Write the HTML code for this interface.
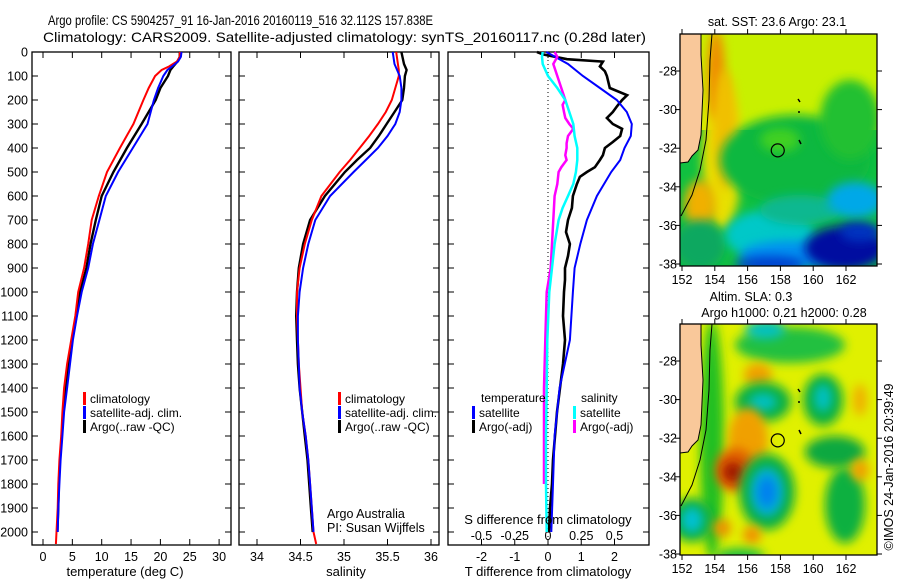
<!DOCTYPE html>
<html><head><meta charset="utf-8"><style>
html,body{margin:0;padding:0;background:#fff;}
svg{display:block;font-family:"Liberation Sans",sans-serif;}
text{fill:#000;}
</style></head><body>
<svg id="chart" width="900" height="580" viewBox="0 0 900 580" xmlns="http://www.w3.org/2000/svg">
<defs>
<filter id="blur6" x="-50%" y="-50%" width="200%" height="200%"><feGaussianBlur stdDeviation="5"/></filter>
<filter id="blur3" x="-50%" y="-50%" width="200%" height="200%"><feGaussianBlur stdDeviation="3"/></filter>
<clipPath id="clipMap1"><rect x="680" y="34" width="197" height="232"/></clipPath>
<clipPath id="clipMap2"><rect x="680" y="324" width="197" height="231"/></clipPath>
</defs>
<text x="48" y="25" font-size="14" textLength="385" lengthAdjust="spacingAndGlyphs">Argo profile: CS 5904257_91 16-Jan-2016 20160119_516 32.112S 157.838E</text>
<text x="43" y="42" font-size="14" textLength="603" lengthAdjust="spacingAndGlyphs">Climatology: CARS2009. Satellite-adjusted climatology: synTS_20160117.nc (0.28d later)</text>
<g id="plots"></g>
<g id="maps"></g>
</svg>
<script>
// ---- data ----
const depthTicks=[0,100,200,300,400,500,600,700,800,900,1000,1100,1200,1300,1400,1500,1600,1700,1800,1900,2000];
const tempTicks=[0,5,10,15,20,25,30];
const salTicks=[34,34.5,35,35.5,36];
const salTickLabels=["34","34.5","35","35.5","36"];
const tDiffTicks=[-2,-1,0,1,2];
const sDiffTicks=[-0.5,-0.25,0,0.25,0.5];
const sDiffTickLabels=["-0.5","-0.25","0","0.25","0.5"];

const tClimDepth=[0,20,40,60,75,100,150,200,300,400,500,600,700,800,900,1000,1100,1200,1300,1400,1500,1600,1700,1800,1900,2000,2050];
const tClim=[23.3,23.3,22.8,21.5,20.2,19.1,18.0,17.1,15.4,13.1,10.9,9.5,8.3,7.7,7.0,6.0,5.5,4.8,4.1,3.6,3.3,3.1,2.8,2.6,2.5,2.3,2.2];
const tSatDepth=[0,20,40,60,75,100,150,200,300,400,500,600,700,800,900,1000,1100,1200,1300,1400,1500,1600,1700,1800,1900,2000];
const tSat=[23.6,23.5,23.0,22.0,21.2,20.5,19.6,18.9,17.8,15.3,12.8,10.7,9.6,8.5,7.7,6.6,5.8,5.1,4.6,4.1,3.6,3.3,3.0,2.8,2.6,2.5];
const tArgo=[23.3,23.3,22.9,22.2,21.7,21.3,20.0,19.2,16.8,14.3,12.0,10.0,9.0,8.1,7.4,6.3,5.7,5.0,4.4,3.8,3.5,3.2,2.9,2.7,2.6,2.45];

const sClimDepth=[0,50,75,100,150,200,250,300,350,400,450,500,600,700,800,900,1000,1100,1200,1300,1400,1500,1600,1700,1800,1900,2000,2050];
const sClim=[35.60,35.62,35.63,35.63,35.59,35.55,35.48,35.39,35.29,35.18,35.07,34.95,34.74,34.63,34.55,34.49,34.46,34.46,34.47,34.48,34.50,34.52,34.56,34.59,34.61,34.63,34.65,34.68];
const sSatDepth=[0,50,75,100,150,200,250,300,350,400,450,500,600,700,800,900,1000,1100,1200,1300,1400,1500,1600,1700,1800,1900,2000];
const sSat=[35.56,35.58,35.61,35.64,35.66,35.66,35.64,35.59,35.50,35.39,35.25,35.11,34.84,34.67,34.59,34.53,34.49,34.47,34.47,34.48,34.49,34.52,34.56,34.59,34.61,34.63,34.65];
const sArgo=[35.66,35.69,35.72,35.70,35.69,35.67,35.58,35.49,35.40,35.30,35.15,35.01,34.78,34.61,34.53,34.48,34.46,34.45,34.46,34.47,34.49,34.52,34.55,34.58,34.60,34.62,34.64];

const dTSatDepth=[0,15,50,100,150,200,250,300,350,400,450,500,600,700,800,900,1000,1200,1400,1600,1800,2000];
const dTSat=[-0.05,0.15,0.6,1.05,1.56,2.07,2.37,2.52,2.49,2.3,2.17,1.9,1.47,1.17,0.97,0.8,0.75,0.66,0.35,0.2,0.15,0.1];
const dTArgoDepth=[0,10,30,40,60,80,100,150,180,200,225,250,275,300,320,350,375,400,430,450,480,500,520,550,600,650,700,750,800,850,900,950,1000,1100,1200,1300,1400,1500,1600,1700,1800,1900,2000];
const dTArgo=[-0.33,-0.15,0.57,1.65,1.56,1.71,1.77,1.86,2.38,2.23,2.08,1.95,1.77,1.95,2.23,2.17,1.95,1.71,1.65,1.56,1.41,1.17,0.96,0.87,0.75,0.72,0.6,0.54,0.66,0.6,0.51,0.51,0.48,0.45,0.51,0.45,0.36,0.27,0.21,0.15,0.12,0.06,0.03];
const dSSatDepth=[0,20,50,100,150,200,250,300,350,400,450,500,550,600,650,700,800,900,1000,1200,1400,1600,1800,2000];
const dSSat=[-0.04,-0.045,-0.04,0,0.07,0.13,0.16,0.19,0.2,0.22,0.22,0.21,0.19,0.15,0.11,0.08,0.05,0.03,0.01,-0.005,-0.01,-0.015,-0.015,-0.01];
const dSArgoDepth=[0,20,50,100,150,200,220,250,275,300,320,350,380,400,430,450,480,500,550,600,700,800,900,1000,1200,1400,1600,1800];
const dSArgo=[0.05,0.07,0.04,0.07,0.1,0.13,0.11,0.12,0.13,0.16,0.19,0.15,0.14,0.14,0.13,0.14,0.1,0.08,0.07,0.05,0.04,0.03,0.02,-0.01,-0.02,-0.03,-0.03,-0.03];

const lonTicks=[152,154,156,158,160,162];
const latTicks=[-28,-30,-32,-34,-36,-38];
const argoLon=157.838, argoLat=-32.112;

// ---- axes ----
const TOP=52, BOT=545;
const yD=d=>TOP+d*0.24;
const xT=t=>43+5.87*t;
const xS=s=>257+87*(s-34);
const xDT=t=>548+33.25*t;
const xDS=s=>548+133*s;
const mapX=lon=>682+(lon-152)*16.4;
const map1Y=lat=>71+(-28-lat)*19.3;
const map2Y=lat=>361+(-28-lat)*19.3;

const NS="http://www.w3.org/2000/svg";
function mk(tag,attrs,parent){const e=document.createElementNS(NS,tag);for(const k in attrs)e.setAttribute(k,attrs[k]);parent.appendChild(e);return e;}
function txt(s,attrs,parent){const e=mk('text',attrs,parent);e.textContent=s;return e;}
const plots=document.getElementById('plots');
const maps=document.getElementById('maps');

const panels=[{l:32,r:231,name:'temperature-panel'},{l:239,r:439,name:'salinity-panel'},{l:448,r:649,name:'difference-panel'}];
panels.forEach(p=>{
  const g=mk('g',{},plots);
  
  
  const fr=mk('rect',{x:p.l,y:TOP,width:p.r-p.l,height:BOT-TOP,fill:'none',stroke:'#000','stroke-width':1.3},g);
  
  
  depthTicks.forEach(d=>{
    mk('line',{x1:p.l,x2:p.l+6,y1:yD(d),y2:yD(d),stroke:'#000'},g);
    mk('line',{x1:p.r-6,x2:p.r,y1:yD(d),y2:yD(d),stroke:'#000'},g);
  });
  p.g=g;
});
depthTicks.forEach(d=>{
  const t=txt(String(d),{x:28,y:yD(d)+4.5,'font-size':12.5,'text-anchor':'end'},plots);
  
  
});
function xTicks(g,vals,labels,fx,ly){
  vals.forEach((v,i)=>{
    const x=fx(v);
    mk('line',{x1:x,x2:x,y1:TOP,y2:TOP+6,stroke:'#000'},g);
    mk('line',{x1:x,x2:x,y1:BOT-6,y2:BOT,stroke:'#000'},g);
    const t=txt(labels[i],{x:x,y:ly,'font-size':12.5,'text-anchor':'middle'},g);
    
    
  });
}
xTicks(panels[0].g,tempTicks,tempTicks.map(String),xT,561);
xTicks(panels[1].g,salTicks,salTickLabels,xS,561);
xTicks(panels[2].g,tDiffTicks,tDiffTicks.map(String),xDT,561);
sDiffTicks.forEach((v,i)=>{
  const t=txt(sDiffTickLabels[i],{x:xDS(v),y:540,'font-size':12.5,'text-anchor':'middle'},panels[2].g);
  
  
});
function axTitle(s,x,y,name){const t=txt(s,{x:x,y:y,'font-size':13,'text-anchor':'middle'},plots);}
axTitle('temperature (deg C)',125,576,'x-axis-title-temperature');
axTitle('salinity',346,576,'x-axis-title-salinity');
axTitle('T difference from climatology',548,576,'x-axis-title-t-difference');
axTitle('S difference from climatology',548,524,'x-axis-title-s-difference');

const zl=mk('line',{x1:548,x2:548,y1:TOP,y2:BOT,stroke:'#000','stroke-dasharray':'1,3'},panels[2].g);



function series(g,depths,vals,fx,color,w,name){
  const pts=depths.map((d,i)=>fx(vals[i]).toFixed(1)+','+yD(d).toFixed(1)).join(' ');
  const pl=mk('polyline',{points:pts,fill:'none',stroke:color,'stroke-width':w,'stroke-linejoin':'miter'},g);
  
  
}
series(panels[0].g,tSatDepth,tArgo,xT,'#000000',2.4,'temperature-argo-line');
series(panels[0].g,tClimDepth,tClim,xT,'#ff0000',2,'temperature-climatology-line');
series(panels[0].g,tSatDepth,tSat,xT,'#0000ff',2,'temperature-satellite-line');
series(panels[1].g,sSatDepth,sArgo,xS,'#000000',2.4,'salinity-argo-line');
series(panels[1].g,sClimDepth,sClim,xS,'#ff0000',2,'salinity-climatology-line');
series(panels[1].g,sSatDepth,sSat,xS,'#0000ff',2,'salinity-satellite-line');
series(panels[2].g,dTArgoDepth,dTArgo,xDT,'#000000',2.6,'temperature-diff-argo-line');
series(panels[2].g,dTSatDepth,dTSat,xDT,'#0000ff',2,'temperature-diff-satellite-line');
series(panels[2].g,dSArgoDepth,dSArgo,xDS,'#ff00ff',2.5,'salinity-diff-argo-line');
series(panels[2].g,dSSatDepth,dSSat,xDS,'#00ffff',2.5,'salinity-diff-satellite-line');

function legend(g,x,y,color,label,name){
  const r=mk('rect',{x:x,y:y-10,width:3,height:13,fill:color},g);
  
  
  const t=txt(label,{x:x+7,y:y+1,'font-size':12},g);
  
  
}
legend(panels[0].g,83,402,'#ff0000','climatology','legend-entry-climatology');
legend(panels[0].g,83,416,'#0000ff','satellite-adj. clim.','legend-entry-satellite');
legend(panels[0].g,83,430,'#000000','Argo(..raw -QC)','legend-entry-argo');
legend(panels[1].g,338,402,'#ff0000','climatology','legend-entry-climatology');
legend(panels[1].g,338,416,'#0000ff','satellite-adj. clim.','legend-entry-satellite');
legend(panels[1].g,338,430,'#000000','Argo(..raw -QC)','legend-entry-argo');
(function(){const t=txt('temperature',{x:481,y:402,'font-size':12},panels[2].g);})();
(function(){const t=txt('salinity',{x:581,y:402,'font-size':12},panels[2].g);})();
legend(panels[2].g,472,416,'#0000ff','satellite','legend-entry-t-satellite');
legend(panels[2].g,472,430,'#000000','Argo(-adj)','legend-entry-t-argo');
legend(panels[2].g,573,416,'#00ffff','satellite','legend-entry-s-satellite');
legend(panels[2].g,573,430,'#ff00ff','Argo(-adj)','legend-entry-s-argo');
(function(){
  const a=txt('Argo Australia',{x:327,y:518,'font-size':12.5},panels[1].g);
  const b=txt('PI: Susan Wijffels',{x:327,y:532,'font-size':12.5},panels[1].g);
})();

// ---- maps ----
function blob(g,cx,cy,rx,ry,color,f){mk('ellipse',{cx:cx,cy:cy,rx:rx,ry:ry,fill:color,filter:'url(#'+(f||'blur6')+')'},g);}
function mapFrame(g,top,bottom,fy,name){
  const fr=mk('rect',{x:680,y:top,width:197,height:bottom-top,fill:'none',stroke:'#000','stroke-width':1.3},g);
  
  
  lonTicks.forEach(l=>{
    const x=mapX(l);
    mk('line',{x1:x,x2:x,y1:top-5,y2:top,stroke:'#000'},g);
    mk('line',{x1:x,x2:x,y1:bottom,y2:bottom+5,stroke:'#000'},g);
    const t=txt(String(l),{x:x,y:bottom+18,'font-size':12.5,'text-anchor':'middle'},g);
    
    
  });
  latTicks.forEach(l=>{
    const y=fy(l);
    mk('line',{x1:675,x2:680,y1:y,y2:y,stroke:'#000'},g);
    mk('line',{x1:877,x2:882,y1:y,y2:y,stroke:'#000'},g);
    const t=txt(String(l),{x:677,y:y+4.5,'font-size':12.5,'text-anchor':'end'},g);
    
    
  });
}
function land(g,top,fy){
  const o=top-34;
  mk('path',{d:`M680 ${top} L701 ${top} L701 ${55+o} L703 ${90+o} L701 ${135+o} L698 ${150+o} L692 ${156+o} L688 ${162+o} L680 ${163+o} Z`,fill:'#f9c89a'},g);
  mk('path',{d:`M701 ${top} L701 ${55+o} L703 ${90+o} L701 ${135+o} L698 ${150+o} L692 ${156+o} L688 ${162+o} L680 ${163+o}`,fill:'none',stroke:'#000','stroke-width':1},g);
  mk('path',{d:`M712 ${top} L710 ${60+o} L709 ${100+o} L706 ${140+o} L700 ${170+o} L692 ${195+o} L681 ${216+o}`,fill:'none',stroke:'#000','stroke-width':1},g);
  mk('path',{d:`M798 ${99+o} l2 3 M798 ${112+o} l2 0 M799 ${140+o} l2 4`,fill:'none',stroke:'#000','stroke-width':1.5},g);
  const c=mk('circle',{cx:mapX(argoLon),cy:fy(argoLat),r:6.5,fill:'none',stroke:'#000','stroke-width':1.2},g);
  
  
}
// map 1: SST
const m1=mk('g',{},maps);


(function(){
  const c=mk('g',{'clip-path':'url(#clipMap1)'},m1);
  mk('rect',{x:680,y:34,width:197,height:232,fill:'#c8f000'},c);
  mk('rect',{x:680,y:130,width:197,height:136,fill:'#10c040'},c);
  blob(c,722,160,20,70,'#e8e000');
  blob(c,716,75,9,45,'#f08c00');
  blob(c,725,130,12,60,'#f0c000');
  blob(c,700,205,16,25,'#f0b000');
  blob(c,795,160,75,45,'#10b840');
  blob(c,850,120,30,40,'#20c030');
  blob(c,780,140,20,12,'#40d020');
  blob(c,700,245,25,25,'#10a860');
  blob(c,770,235,45,25,'#00c8c8');
  blob(c,800,210,40,15,'#10b890');
  blob(c,855,200,28,18,'#00a8e8');
  blob(c,790,255,50,14,'#0090f0');
  blob(c,845,248,40,22,'#0010a0');
  blob(c,860,232,20,10,'#0030c0');
  blob(c,770,264,35,8,'#0040d0');
  land(m1,34,map1Y);
  mapFrame(m1,34,266,map1Y,'sst-map');
  const t=txt('sat. SST: 23.6  Argo: 23.1',{x:777,y:26,'font-size':12.5,'text-anchor':'middle'},m1);
  
  
})();
// map 2: SLA
const m2=mk('g',{},maps);


(function(){
  const c=mk('g',{'clip-path':'url(#clipMap2)'},m2);
  mk('rect',{x:680,y:324,width:197,height:231,fill:'#e0f000'},c);
  blob(c,712,440,12,120,'#20c020');
  blob(c,790,345,55,18,'#20c040');
  blob(c,765,330,20,9,'#00c0c0');
  blob(c,758,375,14,12,'#f0a000');
  blob(c,763,402,28,20,'#10b040');
  blob(c,763,402,14,9,'#00c0c0');
  blob(c,823,400,20,26,'#10b040');
  blob(c,823,398,9,14,'#00c0c0');
  blob(c,748,440,20,32,'#f0a000');
  blob(c,735,470,20,22,'#e06000');
  blob(c,733,472,10,10,'#a01800');
  blob(c,767,492,28,38,'#10b040');
  blob(c,767,492,17,25,'#00b0d0');
  blob(c,767,492,9,15,'#0080f0');
  blob(c,835,452,30,16,'#10a840');
  blob(c,845,505,20,38,'#10b040');
  blob(c,692,520,22,22,'#10b040');
  blob(c,692,520,11,13,'#00c0d0');
  blob(c,860,470,9,11,'#f0a000');
  blob(c,860,400,7,16,'#f0b000');
  blob(c,752,535,9,9,'#f09000');
  blob(c,722,528,9,9,'#f09000');
  blob(c,740,556,25,8,'#20c040');
  land(m2,324,map2Y);
  mapFrame(m2,324,555,map2Y,'sla-map');
  const a=txt('Altim. SLA: 0.3',{x:751,y:301,'font-size':12.5,'text-anchor':'middle'},m2);
  
  
  const b=txt('Argo h1000: 0.21 h2000: 0.28',{x:784,y:317,'font-size':12.5,'text-anchor':'middle'},m2);
  
  
  const r=txt('©IMOS 24-Jan-2016 20:39:49',{x:0,y:0,'font-size':12.5,'text-anchor':'middle',transform:'translate(893,467) rotate(-90)'},m2);
  
  
})();
</script>
</body></html>
